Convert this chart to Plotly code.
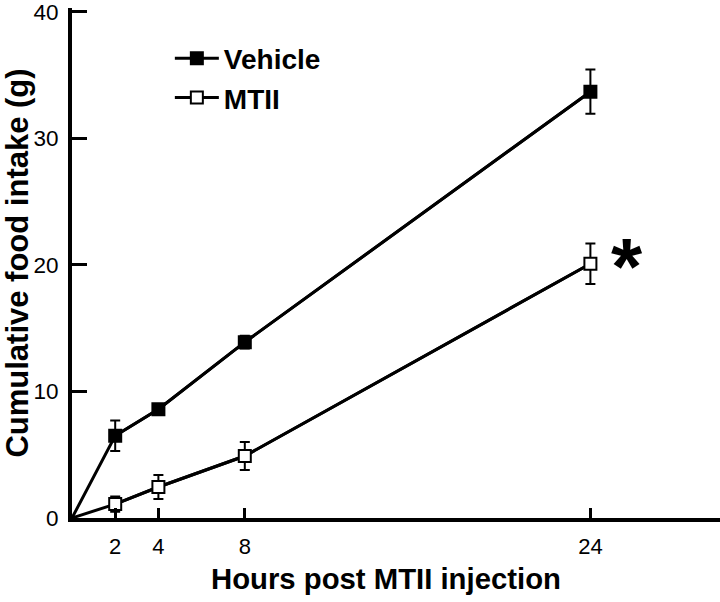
import plotly.graph_objects as go

HOURS = [0, 2, 4, 8, 24]
VEHICLE = [0, 6.5, 8.6, 13.9, 33.7]
VEHICLE_SEM = [0, 1.2, 0.3, 0.5, 1.75]
MTII = [0, 1.1, 2.45, 4.9, 20.1]
MTII_SEM = [0, 0.6, 0.95, 1.1, 1.6]
X_TICKS = [2, 4, 8, 24]
Y_TICKS = [0, 10, 20, 30, 40]

FONT = "Liberation Sans, Arial, Helvetica, sans-serif"

fig = go.Figure()

series = [
    ("Vehicle", VEHICLE, VEHICLE_SEM, "black"),
    ("MTII", MTII, MTII_SEM, "white"),
]
for name, vals, sem, fill in series:
    # connecting line from the origin
    fig.add_trace(go.Scatter(
        x=HOURS, y=vals, mode="lines",
        line=dict(color="black", width=3),
        showlegend=False, hoverinfo="skip", cliponaxis=False,
    ))
    fig.add_trace(go.Scatter(
        x=HOURS[1:], y=vals[1:], mode="lines+markers", name=name,
        line=dict(color="black", width=3),
        marker=dict(symbol="square", size=12, color=fill,
                    line=dict(color="black", width=2)),
        error_y=dict(type="data", array=sem[1:], color="black",
                     thickness=2, width=5),
        cliponaxis=False,
    ))

fig.add_annotation(
    x=25.7, y=MTII[-1], text="<b>*</b>", showarrow=False,
    font=dict(family=FONT, size=80, color="black"),
    xanchor="center", yanchor="middle", yshift=-3,
)

# x-axis title as a positioned annotation (slightly left of centre, as in the original)
fig.add_annotation(
    x=0.4846, xref="paper", y=0, yref="paper",
    text="<b>Hours post MTII injection</b>", showarrow=False,
    font=dict(family=FONT, size=29.3, color="black"),
    xanchor="center", yanchor="top", yshift=-42,
)

fig.update_layout(
    width=720, height=602,
    margin=dict(l=72, r=0, t=8, b=84),
    paper_bgcolor="white", plot_bgcolor="white",
    font=dict(family=FONT, color="black"),
    legend=dict(
        x=0.151, y=0.95, xanchor="left", yanchor="top",
        font=dict(family=FONT, size=28, color="black", weight="bold"),
        bgcolor="rgba(0,0,0,0)", tracegroupgap=0, itemwidth=44,
    ),
    xaxis=dict(
        range=[0, 30], tickvals=X_TICKS, ticktext=[str(v) for v in X_TICKS],
        showline=True, linecolor="black", linewidth=4,
        ticks="inside", ticklen=10, tickwidth=3, tickcolor="black",
        showgrid=False, zeroline=False, automargin=False,
        tickfont=dict(family=FONT, size=22, color="black"),
        ticklabelstandoff=6,
    ),
    yaxis=dict(
        range=[0, 40.315], tickvals=Y_TICKS,
        showline=True, linecolor="black", linewidth=4,
        ticks="inside", ticklen=15, tickwidth=3, tickcolor="black",
        showgrid=False, zeroline=False, automargin=False,
        ticklabeloverflow="allow",
        tickfont=dict(family=FONT, size=22.5, color="black"),
        ticklabelstandoff=5,
        title=dict(text="<b>Cumulative food intake (g)</b>", standoff=10,
                   font=dict(family=FONT, size=31, color="black")),
    ),
)

fig.write_html("out.html", config={"displayModeBar": False},
               post_script="document.body.style.margin='0px';")
